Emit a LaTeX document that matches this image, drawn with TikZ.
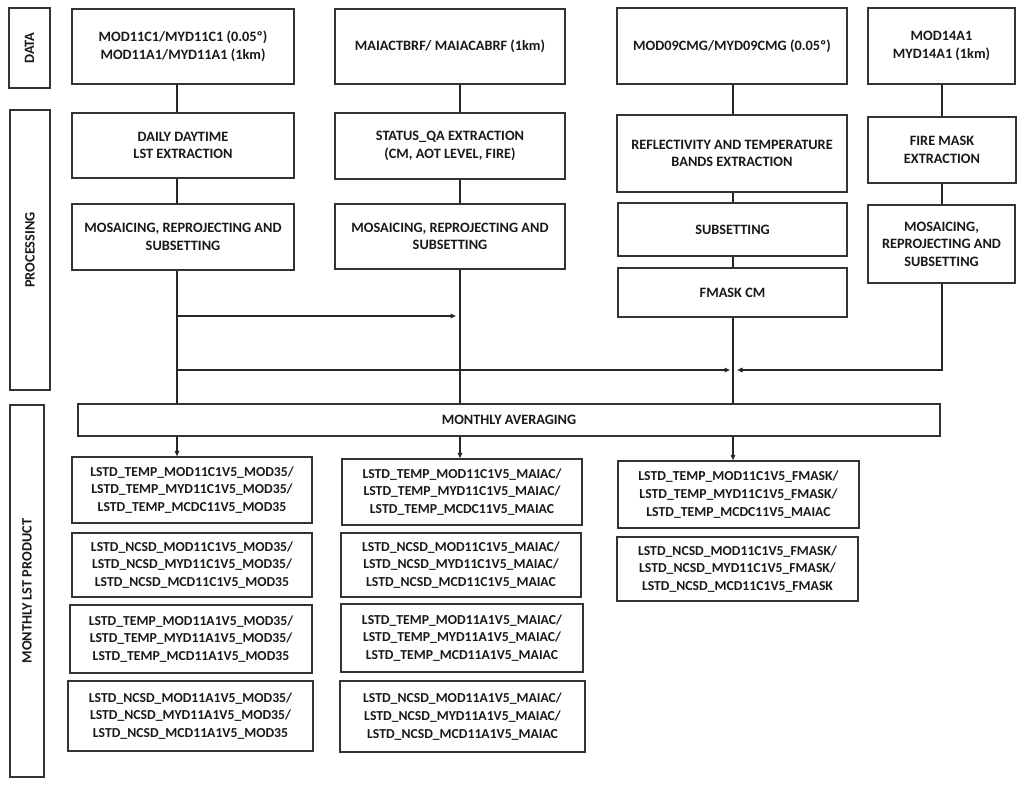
\documentclass[tikz,border=0pt]{standalone}
\usepackage{fontspec}
\setmainfont{Carlito}
\usetikzlibrary{arrows.meta}
\newcommand\fsz{\fontsize{14.3}{17.5}\selectfont\bfseries}
\newcommand\fsp{\fontsize{13.7}{17.7}\selectfont\bfseries}
\begin{document}
\begin{tikzpicture}[x=1pt,y=-1pt,
  box/.style={draw=black!80, line width=1.4pt, inner sep=0pt, align=center, font=\fsz, text=black!90},
  pbox/.style={box, font=\fsp},
  wh/.style 2 args={minimum width=#1pt, minimum height=#2pt},
  ln/.style={draw=black!85, line width=1.4pt},
  arr/.style={ln, -{Triangle[length=5.5pt,width=4.5pt]}}]
\useasboundingbox[fill=white] (0,0) rectangle (1024,784);
% column coordinates
\coordinate (c1) at (177,0);
\coordinate (c2) at (460,0);
\coordinate (c3) at (733,0);
\coordinate (c4) at (942,0);
\coordinate (h1) at (177,316);
\coordinate (h2) at (177,370);
% side labels
\node[box, wh={41}{80}] (lData) at (29.5,48) {\rotatebox{90}{DATA}};
\node[box, wh={40}{280}] (lProc) at (30,250) {\rotatebox{90}{PROCESSING}};
\node[box, wh={34}{372}] (lProd) at (27,591) {\rotatebox{90}{MONTHLY LST PRODUCT}};
% data
\node[box, wh={222}{75}] (D1) at (183,46.5) {MOD11C1/MYD11C1 (0.05º)\\MOD11A1/MYD11A1 (1km)};
\node[box, wh={230}{75}] (D2) at (450,46.5) {MAIACTBRF/ MAIACABRF (1km)};
\node[box, wh={230}{76}] (D3) at (732,46) {MOD09CMG/MYD09CMG (0.05º)};
\node[box, wh={147}{76}] (D4) at (941.5,46) {MOD14A1\\MYD14A1 (1km)};
% processing
\node[box, wh={222}{65}] (P1a) at (183,145.5) {DAILY DAYTIME\\LST EXTRACTION};
\node[box, wh={230}{66}] (P2a) at (450,146) {STATUS\_QA EXTRACTION\\(CM, AOT LEVEL, FIRE)};
\node[box, wh={230}{77}] (P3a) at (732,153.5) {REFLECTIVITY AND TEMPERATURE\\BANDS EXTRACTION};
\node[box, wh={148}{66}] (P4a) at (942,150) {FIRE MASK\\EXTRACTION};
\node[box, wh={222}{66}] (P1b) at (183,237) {MOSAICING, REPROJECTING AND\\SUBSETTING};
\node[box, wh={230}{65}] (P2b) at (450,236.5) {MOSAICING, REPROJECTING AND\\SUBSETTING};
\node[box, wh={229}{53}] (P3b) at (732.5,229.5) {SUBSETTING};
\node[box, wh={229}{49}] (P3c) at (732.5,292.5) {FMASK CM};
\node[box, wh={147}{78}] (P4b) at (941.5,244) {MOSAICING,\\REPROJECTING AND\\SUBSETTING};
% monthly
\node[box, wh={862}{32}] (Mon) at (509,420) {MONTHLY AVERAGING};
% products
\node[pbox, wh={240}{66}] (B1) at (192,490) {LSTD\_TEMP\_MOD11C1V5\_MOD35/\\LSTD\_TEMP\_MYD11C1V5\_MOD35/\\LSTD\_TEMP\_MCDC11V5\_MOD35};
\node[pbox, wh={240}{64}] (B2) at (192,565) {LSTD\_NCSD\_MOD11C1V5\_MOD35/\\LSTD\_NCSD\_MYD11C1V5\_MOD35/\\LSTD\_NCSD\_MCD11C1V5\_MOD35};
\node[pbox, wh={242}{68}] (B3) at (191,639) {LSTD\_TEMP\_MOD11A1V5\_MOD35/\\LSTD\_TEMP\_MYD11A1V5\_MOD35/\\LSTD\_TEMP\_MCD11A1V5\_MOD35};
\node[pbox, wh={245}{70}] (B4) at (190.5,716) {LSTD\_NCSD\_MOD11A1V5\_MOD35/\\LSTD\_NCSD\_MYD11A1V5\_MOD35/\\LSTD\_NCSD\_MCD11A1V5\_MOD35};
\node[pbox, wh={240}{66}] (C1) at (462,492) {LSTD\_TEMP\_MOD11C1V5\_MAIAC/\\LSTD\_TEMP\_MYD11C1V5\_MAIAC/\\LSTD\_TEMP\_MCDC11V5\_MAIAC};
\node[pbox, wh={240}{64}] (C2) at (461,565) {LSTD\_NCSD\_MOD11C1V5\_MAIAC/\\LSTD\_NCSD\_MYD11C1V5\_MAIAC/\\LSTD\_NCSD\_MCD11C1V5\_MAIAC};
\node[pbox, wh={242}{68}] (C3) at (462,638) {LSTD\_TEMP\_MOD11A1V5\_MAIAC/\\LSTD\_TEMP\_MYD11A1V5\_MAIAC/\\LSTD\_TEMP\_MCD11A1V5\_MAIAC};
\node[pbox, wh={245}{71}] (C4) at (462.5,716.5) {LSTD\_NCSD\_MOD11A1V5\_MAIAC/\\LSTD\_NCSD\_MYD11A1V5\_MAIAC/\\LSTD\_NCSD\_MCD11A1V5\_MAIAC};
\node[pbox, wh={241}{67}] (E1) at (738.5,494.5) {LSTD\_TEMP\_MOD11C1V5\_FMASK/\\LSTD\_TEMP\_MYD11C1V5\_FMASK/\\LSTD\_TEMP\_MCDC11V5\_MAIAC};
\node[pbox, wh={241}{64}] (E2) at (737.5,569) {LSTD\_NCSD\_MOD11C1V5\_FMASK/\\LSTD\_NCSD\_MYD11C1V5\_FMASK/\\LSTD\_NCSD\_MCD11C1V5\_FMASK};
% connectors column 1
\draw[ln] (D1.south -| c1) -- (P1a.north -| c1);
\draw[ln] (P1a.south -| c1) -- (P1b.north -| c1);
\draw[ln] (P1b.south -| c1) -- (Mon.north -| c1);
\draw[arr, shorten >=4pt] (h1) -- (h1 -| c2);
\draw[arr, shorten >=3pt] (h2) -- (h2 -| c3);
% column 2
\draw[ln] (D2.south -| c2) -- (P2a.north -| c2);
\draw[ln] (P2a.south -| c2) -- (P2b.north -| c2);
\draw[ln] (P2b.south -| c2) -- (Mon.north -| c2);
% column 3
\draw[ln] (D3.south -| c3) -- (P3a.north -| c3);
\draw[ln] (P3a.south -| c3) -- (P3b.north -| c3);
\draw[ln] (P3b.south -| c3) -- (P3c.north -| c3);
\draw[ln] (P3c.south -| c3) -- (Mon.north -| c3);
% column 4
\draw[ln] (D4.south -| c4) -- (P4a.north -| c4);
\draw[ln] (P4a.south -| c4) -- (P4b.north -| c4);
\draw[arr, shorten >=4pt] (P4b.south -| c4) |- (h2 -| c3);
% monthly to products
\draw[arr] (Mon.south -| c1) -- (B1.north -| c1);
\draw[arr] (Mon.south -| c2) -- (C1.north -| c2);
\draw[arr] (Mon.south -| c3) -- (E1.north -| c3);
\end{tikzpicture}
\end{document}
